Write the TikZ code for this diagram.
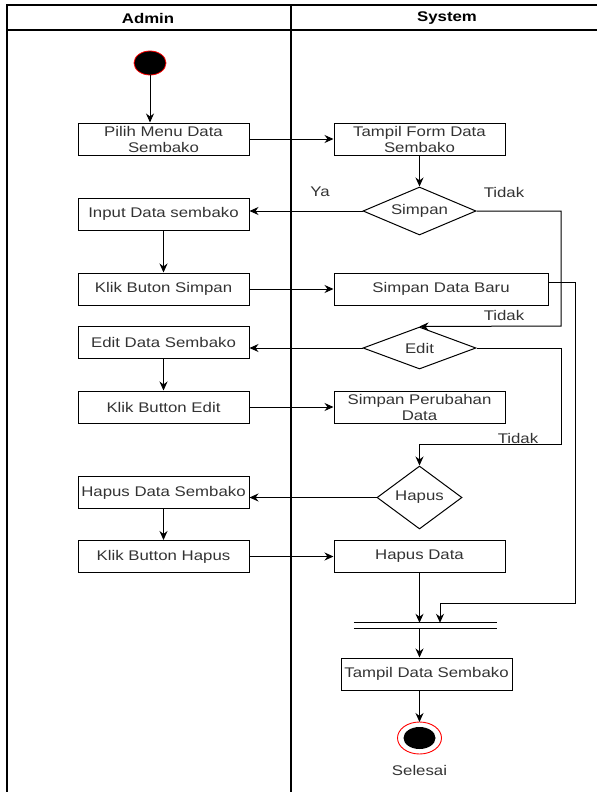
\documentclass[tikz,border=0pt]{standalone}
\usepackage{fontspec}
\setmainfont{Liberation Sans}[FakeStretch=1.2]
\usepackage{tikz}
\usetikzlibrary{arrows.meta,positioning,calc,shapes.geometric}
\definecolor{ActText}{HTML}{333333}
\definecolor{ActRed}{HTML}{FF0000}

\begin{document}
\begin{tikzpicture}[x=1pt,y=-1pt,
    act/.style={draw,rectangle,minimum width=171pt,minimum height=32pt,inner sep=1pt,
      align=center,text=ActText,font=\fontsize{14}{16}\selectfont,line width=1pt},
    choice/.style={draw,diamond,aspect=2.3,inner sep=0pt,text=ActText,
      font=\fontsize{14}{16}\selectfont,line width=1pt},
    flow/.style={line width=1pt,-{Stealth[length=9pt,width=8pt]}},
    lbl/.style={text=ActText,font=\fontsize{14}{16}\selectfont},
    lane/.style={line width=1.2pt}]
  \useasboundingbox (0,0) rectangle (597,792);
  % swimlanes
  \draw[lane] (7,792) -- (7,5) -- (597,5);
  \draw[lane] (7,30) -- (597,30);
  \draw[lane] (291,5) -- (291,792);
  \node[font=\bfseries\fontsize{14}{16}\selectfont] (hAdmin) at (148,18) {Admin};
  \node[font=\bfseries\fontsize{14}{16}\selectfont] (hSystem) at (447,18) {System};

  % start
  \filldraw[fill=black,draw=ActRed,line width=0.8pt] (150,63) ellipse [x radius=16, y radius=12];
  \coordinate (start) at (150,75);

  % admin lane
  \node[act] (pilih) at (163.5,139) {Pilih Menu Data\\Sembako};
  \node[act] (input) at (163.5,214) {Input Data sembako};
  \node[act] (klikSimpan) at (163.5,289) {Klik Buton Simpan};
  \node[act] (editData) at (163.5,342.5) {Edit Data Sembako};
  \node[act] (klikEdit) at (163.5,407) {Klik Button Edit};
  \node[act] (hapusData) at (163.5,492.5) {Hapus Data Sembako};
  \node[act] (klikHapus) at (163.5,556.5) {Klik Button Hapus};

  % system lane
  \node[act] (tampilForm) at (419.5,139) {Tampil Form Data\\Sembako};
  \node[choice,minimum width=113pt,minimum height=48pt] (simpan) at (419.5,211) {Simpan};
  \node[act,minimum width=214pt] (simpanBaru) at (441,289) {Simpan Data Baru};
  \node[choice,minimum width=113pt,minimum height=42pt] (edit) at (419.5,348) {Edit};
  \node[act] (simpanUbah) at (419.5,407) {Simpan Perubahan\\Data};
  \node[choice,minimum width=85pt,minimum height=63pt,aspect=1.35] (hapusD) at (419.5,497.5) {Hapus};
  \node[act] (hapus) at (419.5,556.5) {Hapus Data};
  \node[minimum width=143pt,minimum height=5pt,inner sep=0pt] (bar) at (425.5,625.5) {};
  \draw[line width=1pt] (bar.north west) -- (bar.north east);
  \draw[line width=1pt] (bar.south west) -- (bar.south east);
  \node[act,inner sep=0pt] (tampilData) at (426.5,674) {Tampil Data Sembako};

  % end
  \filldraw[fill=white,draw=ActRed,line width=0.9pt] (419.5,738) ellipse [x radius=22, y radius=16];
  \fill[black] (419.5,738) ellipse [x radius=16, y radius=11];
  \coordinate (finish) at (419.5,722);
  \node[lbl] (selesai) at (419.5,770) {Selesai};

  % connectors
  \draw[flow] (start) -- (pilih.north -| start);
  \foreach \a/\b in {pilih/tampilForm,klikSimpan/simpanBaru,klikEdit/simpanUbah,klikHapus/hapus}
    \draw[flow] (\a.east) -- (\a.east -| \b.west);
  \foreach \a/\b in {input/klikSimpan,editData/klikEdit,hapusData/klikHapus}
    \draw[flow] (\a) -- (\b);
  \draw[flow] (tampilForm) -- (simpan);
  \draw[flow] (simpan.west) -- (simpan.west -| input.east);
  \draw[flow] (edit.west) -- (edit.west -| editData.east);
  \draw[flow] (hapusD.west) -- (hapusD.west -| hapusData.east);

  \coordinate (rail1) at (561,326);
  \draw[flow] (simpan.east) -| (rail1) -- (edit.north);
  \coordinate (rail2) at (561,444);
  \draw[flow] (edit.east) -| (rail2) -| (hapusD.north);
  \coordinate (rail3) at (575,603);
  \coordinate (barIn) at (440,603);
  \draw[flow] ($(simpanBaru.east)+(0,-7)$) -| (rail3) -- (barIn) -- (barIn |- bar.north);
  \draw[flow] (hapus) -- (hapus.south |- bar.north);
  \draw[flow] (hapus.south |- bar.south) -- (hapus.south |- tampilData.north);
  \draw[flow] (tampilData.south -| finish) -- (finish);

  % guard labels
  \node[lbl] (ya) at (320,192) {Ya};
  \node[lbl] (tidak1) at (504,192) {Tidak};
  \node[lbl] (tidak2) at (504,315) {Tidak};
  \node[lbl] (tidak3) at (518,438) {Tidak};
\end{tikzpicture}
\end{document}
